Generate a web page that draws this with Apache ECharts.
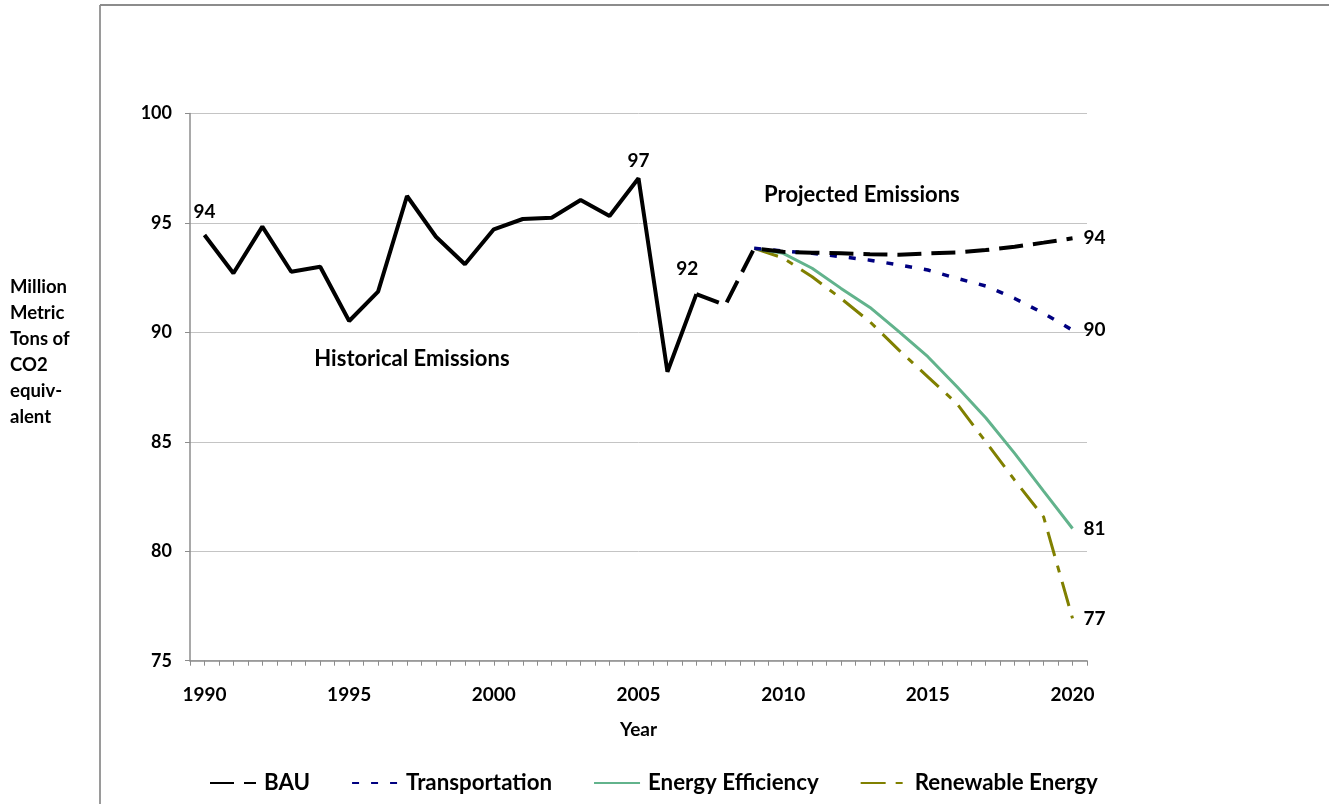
<!DOCTYPE html>
<html>
<head>
<meta charset="utf-8">
<script src="https://cdn.jsdelivr.net/npm/echarts@6/dist/echarts.min.js"></script>
<style>
  html, body { margin: 0; padding: 0; background: #fff; }
  #chart { width: 1329px; height: 804px; }
</style>
</head>
<body>
<div id="chart"></div>
<script>
// ---- data ----
const historicalYears = [1990, 1991, 1992, 1993, 1994, 1995, 1996, 1997, 1998, 1999, 2000, 2001, 2002, 2003, 2004, 2005, 2006, 2007];
const historicalValues = [94.45, 92.70, 94.83, 92.77, 93.00, 90.52, 91.86, 96.23, 94.37, 93.11, 94.71, 95.18, 95.24, 96.05, 95.32, 97.04, 88.20, 91.75];
const historicalLabelYears = [1990, 2005, 2007];

const bauYears = [2007, 2008, 2009, 2010, 2011, 2012, 2013, 2014, 2015, 2016, 2017, 2018, 2019, 2020];
const bauValues = [91.75, 91.25, 93.84, 93.68, 93.64, 93.61, 93.57, 93.55, 93.61, 93.65, 93.76, 93.91, 94.10, 94.30];

const projectedYears = [2009, 2010, 2011, 2012, 2013, 2014, 2015, 2016, 2017, 2018, 2019, 2020];
const transportationValues = [93.84, 93.72, 93.61, 93.46, 93.30, 93.08, 92.85, 92.47, 92.12, 91.55, 90.87, 90.10];
const efficiencyValues = [93.84, 93.61, 92.93, 92.01, 91.14, 90.03, 88.89, 87.53, 86.10, 84.47, 82.75, 81.04];
const renewableValues = [93.84, 93.40, 92.54, 91.55, 90.48, 89.19, 87.97, 86.75, 85.00, 83.25, 81.57, 76.93];

const xTickLabels = [1990, 1995, 2000, 2005, 2010, 2015, 2020];
const yTicks = [75, 80, 85, 90, 95, 100];
const yAxisTitle = 'Million\nMetric\nTons of\nCO2\nequiv-\nalent';

const annotations = [
  { text: 'Historical Emissions', coord: [1997.17, 88.78] },
  { text: 'Projected Emissions', coord: [2012.72, 96.28] }
];

// ---- chart ----
const FONT = 'Lato';
const pairs = (xs, ys) => xs.map((x, i) => [x, ys[i]]);

const histLabelOffset = {
  1990: [0, -4],
  2005: [0, 2],
  2007: [-9, -6]
};

const valueLabelMarks = historicalLabelYears.map(y => {
  const v = historicalValues[historicalYears.indexOf(y)];
  return {
    name: String(Math.round(v)),
    coord: [y, v],
    label: {
      show: true,
      position: 'top',
      distance: 10,
      offset: histLabelOffset[y],
      color: '#000',
      fontFamily: FONT,
      fontWeight: 'bold',
      fontSize: 19
    }
  };
});

const annotationMarks = annotations.map(a => ({
  name: a.text,
  coord: a.coord,
  label: { show: true, position: 'inside', color: '#000', fontFamily: FONT, fontWeight: 'bold', fontSize: 22 }
}));

const endLabel = {
  show: true,
  formatter: p => Math.round(p.value[1]),
  distance: 11,
  color: '#000',
  fontFamily: FONT,
  fontWeight: 'bold',
  fontSize: 19
};

const chart = echarts.init(document.getElementById('chart'));
chart.setOption({
  animation: false,
  backgroundColor: '#fff',
  textStyle: { fontFamily: FONT },
  grid: { left: 190, right: 242, top: 113.5, bottom: 143.3, containLabel: false },
  graphic: [
    { type: 'line', shape: { x1: 100, y1: 5, x2: 100, y2: 804 }, style: { stroke: '#9a9a9a', lineWidth: 2 } },
    { type: 'line', shape: { x1: 100, y1: 5, x2: 1329, y2: 5 }, style: { stroke: '#8c8c8c', lineWidth: 2 } },
    {
      type: 'text', left: 10, top: 274,
      style: { text: yAxisTitle, fill: '#000', font: 'bold 18.5px Lato', lineHeight: 26, align: 'left' }
    }
  ],
  legend: {
    data: ['BAU', 'Transportation', 'Energy Efficiency', 'Renewable Energy'],
    left: 204,
    top: 767,
    itemWidth: 46,
    itemHeight: 14,
    itemGap: 41,
    itemStyle: { opacity: 0 },
    textStyle: { fontFamily: FONT, fontWeight: 'bold', fontSize: 22.3, color: '#000', padding: [0, 0, 0, 3] }
  },
  xAxis: {
    type: 'value',
    min: 1989.5,
    max: 2020.5,
    interval: 0.5,
    name: 'Year',
    nameLocation: 'middle',
    nameGap: 60,
    nameTextStyle: { fontFamily: FONT, fontWeight: 'bold', fontSize: 19, color: '#000' },
    axisLine: { show: true, lineStyle: { color: '#8c8c8c', width: 1.5 } },
    axisTick: { show: true, length: 5, lineStyle: { color: '#8c8c8c', width: 1 } },
    splitLine: { show: false },
    axisLabel: {
      margin: 25,
      color: '#000',
      fontFamily: FONT,
      fontWeight: 'bold',
      fontSize: 19,
      formatter: v => (xTickLabels.includes(v) ? String(v) : '')
    }
  },
  yAxis: {
    type: 'value',
    min: yTicks[0],
    max: yTicks[yTicks.length - 1],
    interval: 5,
    axisLine: { show: true, lineStyle: { color: '#8c8c8c', width: 1.5 } },
    axisTick: { show: true, length: 5, lineStyle: { color: '#8c8c8c', width: 1 } },
    splitLine: { show: true, lineStyle: { color: '#c4c4c4', width: 1 } },
    axisLabel: { margin: 18, color: '#000', fontFamily: FONT, fontWeight: 'bold', fontSize: 18 }
  },
  series: [
    {
      name: 'Historical',
      type: 'line',
      data: pairs(historicalYears, historicalValues),
      showSymbol: false,
      symbol: 'none',
      lineStyle: { color: '#000', width: 4, type: 'solid' },
      itemStyle: { color: '#000' },
      z: 5,
      markPoint: {
        symbol: 'circle',
        symbolSize: 0,
        silent: true,
        label: { show: true, color: '#000', fontFamily: FONT, fontWeight: 'bold', formatter: p => p.name },
        data: valueLabelMarks.concat(annotationMarks)
      }
    },
    {
      name: 'BAU',
      type: 'line',
      data: pairs(bauYears, bauValues),
      showSymbol: false,
      symbol: 'none',
      lineStyle: { color: '#000', width: 4, type: [24, 10] },
      itemStyle: { color: '#000' },
      endLabel: endLabel,
      z: 4
    },
    {
      name: 'Transportation',
      type: 'line',
      data: pairs(projectedYears, transportationValues),
      showSymbol: false,
      symbol: 'none',
      lineStyle: { color: '#000080', width: 3.5, type: [7, 12] },
      itemStyle: { color: '#000080' },
      endLabel: endLabel,
      z: 3
    },
    {
      name: 'Energy Efficiency',
      type: 'line',
      data: pairs(projectedYears, efficiencyValues),
      showSymbol: false,
      symbol: 'none',
      lineStyle: { color: '#62b38c', width: 3, type: 'solid' },
      itemStyle: { color: '#62b38c' },
      endLabel: endLabel,
      z: 2
    },
    {
      name: 'Renewable Energy',
      type: 'line',
      data: pairs(projectedYears, renewableValues),
      showSymbol: false,
      symbol: 'none',
      lineStyle: { color: '#808000', width: 3, type: [25, 10, 7, 10] },
      itemStyle: { color: '#808000' },
      endLabel: endLabel,
      z: 1
    }
  ]
});
</script>
</body>
</html>
